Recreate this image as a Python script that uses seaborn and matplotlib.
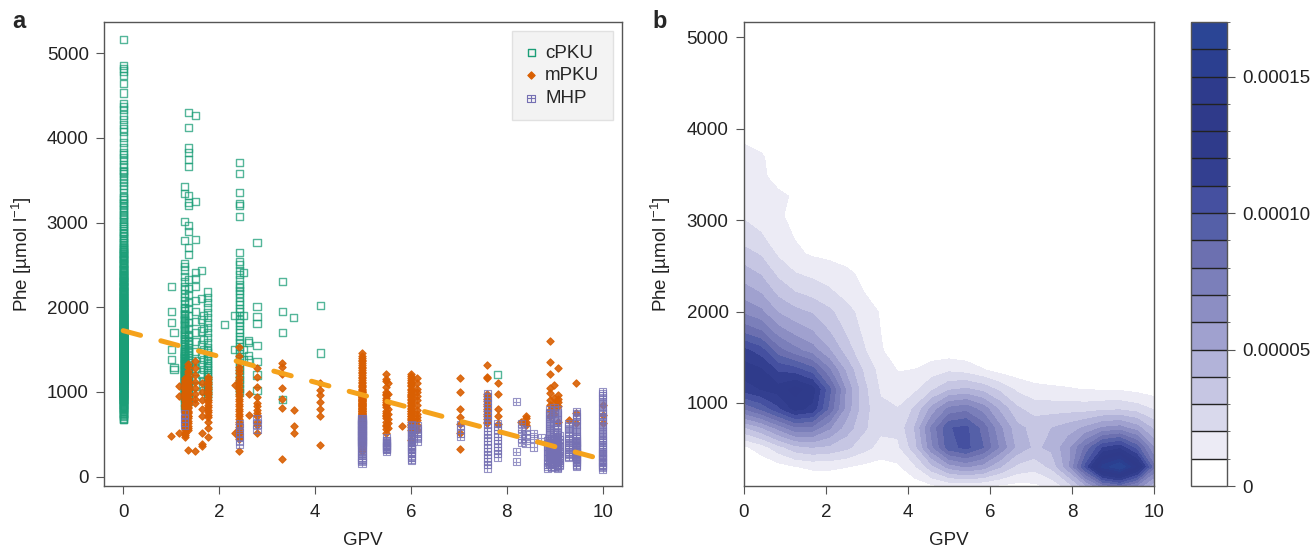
import numpy as np
import pandas as pd
import matplotlib
matplotlib.use("Agg")
import matplotlib.pyplot as plt
from matplotlib.path import Path
from matplotlib.colors import ListedColormap, BoundaryNorm
from matplotlib.cm import ScalarMappable
from matplotlib.ticker import FuncFormatter
import seaborn as sns

# ---- values: (GPV, [Phe values in umol/l]) per column ----
cpku_cols = [
    (0.00, [5165, 4850, 4820, 4790, 4740, 4640, 4530, 4410, 4370, 4340, 4270, 4220,
            4160, 4110, 4070, 4010, 3950, 3890, 3830, 3800, 3770, 3730, 3690, 3660,
            3620, 3600, 3580, 3540, 3510, 3470, 3440,
            3400, 3350, 3310, 3270, 3220, 3180, 3150, 3100, 3060, 3010, 2990, 2950,
            2900, 2870, 2830, 2790, 2760, 2720, 2690, 2660, 2620, 2590, 2560, 2530,
            2500, 2470, 2440, 2420, 2390, 2360, 2340, 2310, 2290, 2260, 2240, 2210,
            2190, 2170, 2150, 2120,
            3290, 3240, 3200, 3130, 3080, 3040, 2970, 2930, 2880, 2850, 2810, 2770,
            2740, 2700, 2675, 2645, 2610, 2580, 2550, 2520, 2490, 2460, 2450, 2430,
            2410, 2400, 2380, 2370, 2350, 2330, 2320, 2300, 2280, 2270, 2250, 2230,
            2220, 2200, 2185, 2180, 2160, 2140, 2130, 2110, 2105, 2470, 2520, 2560,
            2600, 2640, 2680, 2250, 2300, 2350, 2200, 2150,
            2100, 2095, 2088, 2080, 2074, 2066, 2060, 2051, 2045, 2039, 2031, 2025,
            2018, 2010, 2004,
            2000, 1994, 1989, 1981, 1975, 1968, 1961, 1955, 1950, 1944, 1938, 1931,
            1925, 1919, 1911, 1905, 1900,
            1895, 1890, 1884, 1879, 1875, 1868, 1861, 1855, 1850, 1845, 1839, 1834,
            1829, 1821, 1815, 1810, 1804, 1800,
            1795, 1790, 1786, 1780, 1775, 1770, 1764, 1760, 1755, 1750, 1744, 1740,
            1735, 1730, 1725, 1720, 1714, 1710, 1705, 1700,
            1698, 1694, 1690, 1685, 1680, 1676, 1672, 1668, 1664, 1660, 1655, 1650,
            1646, 1642, 1638, 1634, 1630, 1625, 1620, 1615, 1610, 1605, 1600,
            1597, 1593, 1590, 1586, 1582, 1578, 1574, 1570, 1566, 1562, 1558, 1554,
            1550, 1546, 1542, 1538, 1534, 1530, 1526, 1522, 1518, 1514, 1510, 1506, 1502,
            1498, 1494, 1490, 1486, 1482, 1478, 1474, 1470, 1466, 1462, 1458, 1454,
            1450, 1446, 1442, 1438, 1434, 1430, 1426, 1422, 1418, 1414, 1410, 1406, 1402,
            1399, 1395, 1391, 1387, 1383, 1379, 1375, 1371, 1367, 1363, 1359, 1355,
            1350, 1346, 1342, 1338, 1334, 1330, 1326, 1322, 1318, 1313, 1309, 1305, 1301,
            1298, 1294, 1290, 1286, 1282, 1278, 1273, 1269, 1265, 1261, 1257, 1253,
            1250, 1246, 1242, 1238, 1234, 1230, 1225, 1221, 1217, 1213, 1209, 1205, 1201,
            1197, 1193, 1189, 1185, 1181, 1177, 1173, 1169, 1165, 1160, 1156, 1152,
            1148, 1144, 1140, 1135, 1131, 1127, 1123, 1119, 1115, 1110, 1106, 1102, 1100,
            1480, 1455, 1430, 1405, 1380, 1355, 1330, 1305, 1280, 1255, 1230, 1205,
            1180, 1520, 1545, 1570, 1595, 1620, 1160, 1140,
            1095, 1090, 1086, 1081, 1076, 1071, 1066, 1061, 1056, 1051, 1046, 1041,
            1036, 1031, 1026, 1021, 1016, 1011, 1006, 1002, 998, 994,
            989, 983, 977, 971, 965, 959, 953, 947, 941, 935, 929, 923, 917, 911,
            905, 900, 906, 912,
            895, 885, 875, 866, 856, 845, 835, 825, 815, 806, 801, 811,
            795, 780, 765, 750, 740, 730, 720, 705, 690, 680, 670]),
    (1.00, [2250, 1945, 1815, 1500, 1380]),
    (1.06, [1700, 1290, 1260]),
    (1.28, [3430, 3340, 3010, 2790, 2520, 2480, 2440, 2360, 2300, 2250, 2210, 2160,
            2120, 2080, 2040, 2000, 1960, 1930, 1900, 1870, 1840, 1810, 1780, 1750,
            1720, 1690, 1660, 1630, 1600, 1570, 1540, 1510, 1480, 1450, 1420, 1390,
            1360, 1330, 1300, 1270, 1240, 1210, 1180, 1150, 1120, 1090, 1060, 1030,
            1000, 960, 920, 880, 840, 800, 1985, 1915, 1855, 1795, 1735, 1675, 1615,
            1555, 1495, 1435, 1375, 1315, 1255, 1195, 1135, 1075, 1015,
            1480, 1460, 1440, 1410, 1400, 1380, 1350, 1340, 1320, 1290, 1280, 1260,
            1230, 1220, 1200, 1170, 1160, 1140, 1110, 1100, 1080, 1050, 1040, 1020,
            990, 980, 970, 950, 940, 930]),
    (1.36, [4300, 4120, 3880, 3830, 3750, 3660, 3320, 3240, 3200, 2970, 2890, 2710,
            2620, 2330, 2220, 2150, 2060, 1990, 1900, 1820, 1750, 1680, 1610, 1560,
            1490, 1430, 1370, 1310, 1250, 1190, 1130, 1070, 1010, 950, 890,
            1650, 1590, 1530, 1470, 1410, 1350, 1290, 1230, 1170, 1110, 1050, 990, 930]),
    (1.50, [4260, 3250, 2800, 2410, 2340, 2240, 2080, 1950, 1830, 1700, 1600, 1480,
            1370, 1280, 1160, 1060]),
    (1.64, [2430, 2100, 1860, 1720, 1560, 1440, 1320, 1210]),
    (1.67, [1900, 1750, 1620, 1500, 1380, 1260, 1140, 1020]),
    (1.76, [2180, 2120, 2060, 2000, 1940, 1880, 1820, 1760, 1700, 1640, 1580, 1520,
            1460, 1400, 1340, 1290, 1230, 1180, 1120, 1060, 1000, 950,
            1490, 1430, 1370, 1310, 1260, 1210, 1150, 1090, 1030, 980]),
    (2.12, [1800]),
    (2.33, [1900, 1500]),
    (2.42, [3710, 3580, 3360, 3230, 3200, 3070, 2650, 2540, 2500, 2430, 2390, 2330,
            2270, 2230, 2200, 2160, 2110, 2070, 2030, 1990, 1950, 1900, 1860, 1820,
            1780, 1740, 1700, 1660, 1620, 1580, 1540, 1500, 1450, 1400, 1350, 1300,
            1250, 1200, 1150, 1100, 1040, 990]),
    (2.50, [2410, 1900, 1500, 1380]),
    (2.62, [1610, 1580, 1430, 1380]),
    (2.79, [2760, 2010, 1890, 1810, 1550, 1360, 1200, 1020]),
    (3.32, [2300, 1950, 1700, 910]),
    (3.56, [1875]),
    (4.12, [2025, 1460]),
    (7.81, [1210]),
]

mpku_cols = [
    (1.00, [480]),
    (1.17, [1070, 950, 510]),
    (1.28, [1160, 1120, 1080, 1040, 1000, 960, 920, 880, 850, 820, 790, 760, 730,
            700, 670, 640, 610, 580, 550, 520, 490, 470, 1140, 1060, 980, 900, 830,
            770, 710, 650, 590, 1130, 1100, 1050, 1020, 990, 940, 910, 860, 840, 810,
            780, 750, 720, 690]),
    (1.36, [1330, 1250, 1180, 1110, 1050, 990, 930, 870, 810, 750, 690, 630, 570,
            550, 320, 1080, 1020, 960, 900, 840, 780, 720, 660, 600, 1300, 1220, 1150,
            1130, 1070, 1030, 970, 910, 880, 820, 760, 710]),
    (1.50, [1370, 1280, 1200, 1120, 1050, 980, 920, 870, 300]),
    (1.64, [1100, 1000, 900, 800, 720, 510, 380, 360]),
    (1.76, [1180, 1120, 1060, 1000, 940, 880, 820, 760, 700, 640, 580, 470,
            1150, 1090, 1030, 970, 910, 850, 790, 730]),
    (2.33, [1080, 510]),
    (2.42, [1530, 1420, 1350, 1300, 1260, 1220, 1180, 1140, 1100, 1070, 1040, 1010,
            980, 950, 920, 890, 860, 830, 800, 770, 740, 710, 680, 650, 620, 590,
            560, 530, 500, 470, 440, 300]),
    (2.62, [980, 730]),
    (2.79, [1280, 1180, 1060, 940, 870, 830, 790, 750, 710, 650, 610, 510]),
    (3.32, [1340, 1300, 1210, 1050, 920, 810, 205]),
    (3.56, [790, 600, 520]),
    (4.10, [1110, 1020, 960, 880, 800, 710, 375]),
    (4.98, [1460, 1430, 1400, 1380, 1360, 1340, 1320, 1300, 1280, 1260, 1240, 1220,
            1200, 1180, 1160, 1140, 1120, 1100, 1085, 1070, 1055, 1040, 1025, 1010,
            995, 980, 965, 950, 940, 930, 920, 910, 900, 890, 880, 870, 860, 850,
            840, 830, 820, 810, 800, 790, 780, 770, 760, 750, 740, 730, 720, 710,
            700, 690, 680, 670, 660, 650, 640, 625, 610, 595, 580, 560, 540, 520,
            500, 470, 450, 410, 380, 340, 300,
            1000, 975, 955, 935, 915, 895, 875, 855, 835, 815, 795, 775, 755, 735,
            715, 695, 675, 655, 635, 615, 600, 585, 570, 550, 530, 510]),
    (5.49, [1210, 1130, 1000, 975, 925, 885, 845, 750, 710, 610, 510,
            1150, 1060, 960, 900, 860, 820, 780, 730, 690, 650, 600, 560]),
    (5.52, [1100, 980, 880, 800, 740, 680, 630, 580]),
    (5.81, [600]),
    (6.01, [1210, 1190, 1140, 1040, 1000, 960, 900, 830, 770, 710, 670, 550, 430,
            1100, 1070, 980, 940, 870, 800, 740, 690, 610,
            1170, 1120, 1080, 1020, 950, 920, 880, 850, 810, 780, 750, 720, 680,
            650, 620, 590]),
    (6.13, [1160, 1040, 900, 790, 670, 550, 1110, 1000, 950, 850, 740, 700, 610]),
    (7.03, [1170, 1000, 800, 700, 620, 520, 325]),
    (7.59, [1320, 1180, 1160, 980, 950, 920, 890, 860, 830, 800, 770, 740, 710,
            680, 650, 630]),
    (7.81, [1100, 970, 800, 710, 620]),
    (8.30, [640]),
    (8.40, [720, 690, 650, 610]),
    (8.89, [1600, 1350, 1210, 1050, 985, 905, 845, 785, 710]),
    (8.98, [1080, 930, 860, 800, 740]),
    (9.06, [1280, 960, 920, 880, 830, 650]),
    (9.29, [670]),
    (9.45, [1100, 750, 630]),
    (10.00, [845, 730, 630]),
]

mhp_cols = [
    (1.28, [740, 690, 640, 600]),
    (2.42, [630, 580, 520, 470, 420, 380]),
    (2.79, [680, 620, 560]),
    (4.98, [690, 670, 650, 630, 610, 590, 570, 550, 530, 510, 490, 470, 450, 430,
            410, 390, 370, 350, 330, 310, 290, 270, 250, 230, 210, 190, 175, 160,
            680, 660, 640, 620, 600, 580, 560, 540, 520, 500, 480, 460, 440, 420,
            400, 380]),
    (5.49, [430, 400, 370, 340, 320, 460, 430, 400, 370, 340, 320, 300,
            420, 390, 360, 330]),
    (6.01, [610, 580, 560, 540, 520, 500, 480, 460, 440, 420, 400, 380, 360, 340,
            320, 300, 280, 250, 230, 200, 190,
            600, 570, 530, 490, 450, 410, 370, 330, 290]),
    (6.13, [600, 570, 540, 510, 480, 450, 420]),
    (7.03, [610, 560, 510, 470]),
    (7.59, [980, 940, 900, 860, 820, 780, 740, 700, 660, 620, 580, 540, 500, 460,
            420, 380, 340, 300, 260, 220, 180, 140, 100]),
    (7.81, [630, 590, 550, 510, 470, 430, 390, 350, 310, 270, 230]),
    (8.20, [885, 295, 177]),
    (8.30, [630, 570, 510, 450, 400]),
    (8.40, [550, 500, 450, 390]),
    (8.56, [510, 450, 350]),
    (8.72, [460]),
    (8.85, [420, 390, 360, 330, 300, 270, 240, 210, 180, 150, 120, 100]),
    (8.89, [790, 760, 740, 715, 690, 665, 640, 615, 590, 565, 540, 515, 490, 465,
            440, 420, 400, 380, 360, 340, 320, 300, 280, 260, 240, 220, 200, 180,
            160, 140, 430, 410, 390, 370, 350, 330, 310, 290, 270, 250]),
    (8.93, [450, 420, 390, 360, 330, 300, 280, 260, 240, 220, 200, 180, 160, 140,
            120, 110]),
    (8.98, [820, 700, 600, 520, 470, 430, 400, 370, 345, 320, 300, 280, 260, 240,
            220, 200, 180, 160, 140, 120]),
    (9.06, [790, 760, 730, 700, 670, 640, 610, 580, 550, 520, 495, 470, 445, 420,
            400, 380, 360, 340, 320, 300, 285, 270, 255, 240, 225, 210, 195, 180,
            165, 150, 135, 120, 105, 95, 460, 430, 410, 390, 370, 350, 330, 310,
            290, 270, 250, 230, 210, 190]),
    (9.10, [480, 440, 400, 370, 340, 310, 290, 270, 250, 230, 210, 190, 170, 150, 130]),
    (9.29, [630, 600, 570, 540, 510, 480, 450, 420, 400, 380, 360, 340, 320, 300,
            280, 260, 240, 230]),
    (9.45, [770, 740, 710, 680, 650, 620, 590, 560, 530, 500, 470, 445, 420, 400,
            380, 360, 340, 320, 300, 280, 260, 240, 220, 200, 185, 170, 150, 135, 120,
            450, 410, 390, 350, 330, 290, 270, 230, 210]),
    (10.00, [1000, 975, 950, 920, 890, 860, 830, 800, 770, 740, 710, 680, 650, 620,
             590, 560, 535, 510, 485, 460, 440, 420, 400, 380, 360, 340, 320, 300,
             285, 270, 255, 240, 225, 210, 195, 180, 165, 150, 135, 120, 105, 92]),
]

colors = {"cPKU": "#1b9e77", "mPKU": "#d95f02", "MHP": "#7570b3"}
fit_color = "#f5a21b"

# 17 filled-contour colours, lowest level first
kde_colors = ["#ffffff", "#ecebf5", "#d9d9ec", "#c6c6e3", "#b2b3d9", "#a0a1cf",
              "#8c8ec3", "#7b7fba", "#6c70b0", "#5560a8", "#4550a0", "#333f90",
              "#2f3b8b", "#2f3a8a", "#2e3b8c", "#2b3f90", "#2b4595"]
kde_levels = np.linspace(0, 0.00017, 18)
bw_adjust = 0.74


def expand(cols, label):
    rows = [(g, p) for g, vals in cols for p in vals]
    return pd.DataFrame(rows, columns=["GPV", "Phe"]).assign(type=label)


df = pd.concat([expand(cpku_cols, "cPKU"), expand(mpku_cols, "mPKU"),
                expand(mhp_cols, "MHP")], ignore_index=True)

sns.set_style("ticks")
plt.rcParams.update({
    "font.family": ["Liberation Sans", "DejaVu Sans"],
    "mathtext.fontset": "custom",
    "mathtext.rm": "Liberation Sans",
    "mathtext.it": "Liberation Sans:italic",
    "mathtext.bf": "Liberation Sans:bold",
    "font.size": 13.5,
    "axes.edgecolor": "#555555",
    "axes.linewidth": 1.0,
    "axes.labelcolor": "#222222",
    "axes.labelsize": 13.5,
    "xtick.color": "#555555", "ytick.color": "#555555",
    "xtick.labelcolor": "#222222", "ytick.labelcolor": "#222222",
    "xtick.labelsize": 13.5, "ytick.labelsize": 13.5,
    "xtick.major.size": 6, "ytick.major.size": 6,
    "xtick.major.pad": 7, "ytick.major.pad": 5,
})

fig = plt.figure(figsize=(13.13, 5.48), dpi=100)
ax1 = fig.add_axes([0.0792, 0.1131, 0.3945, 0.8467])
ax2 = fig.add_axes([0.5666, 0.1131, 0.3123, 0.8467])
cax = fig.add_axes([0.9071, 0.1131, 0.0274, 0.8467])

# square with a cross inside (R pch 12)
boxplus = Path([(-1, -1), (1, -1), (1, 1), (-1, 1), (-1, -1),
                (0, -1), (0, 1), (-1, 0), (1, 0)],
               [Path.MOVETO, Path.LINETO, Path.LINETO, Path.LINETO, Path.CLOSEPOLY,
                Path.MOVETO, Path.LINETO, Path.MOVETO, Path.LINETO])

# ---- a: scatter + linear fit ----
sub = df[df.type == "cPKU"]
sns.scatterplot(x=sub.GPV, y=sub.Phe, ax=ax1, marker="s", s=26, facecolors="none",
                edgecolor=colors["cPKU"], linewidth=1.0, alpha=0.75, label="cPKU")
sub = df[df.type == "mPKU"]
sns.scatterplot(x=sub.GPV, y=sub.Phe, ax=ax1, marker="D", s=14, color=colors["mPKU"],
                edgecolor=colors["mPKU"], linewidth=0.8, alpha=0.9, label="mPKU")
sub = df[df.type == "MHP"]
sns.scatterplot(x=sub.GPV, y=sub.Phe, ax=ax1, marker=boxplus, s=28, facecolors="none",
                edgecolor=colors["MHP"], linewidth=0.8, alpha=0.75, label="MHP")

sns.regplot(data=df, x="GPV", y="Phe", ax=ax1, scatter=False, ci=None, truncate=True,
            line_kws=dict(color=fit_color, lw=3.6, ls=(0, (3.6, 4.2)),
                          dash_capstyle="round"))

ax1.margins(0.04)
ax1.set_xticks([0, 2, 4, 6, 8, 10])
ax1.set_yticks([0, 1000, 2000, 3000, 4000, 5000])
ax1.set_xlabel("GPV", labelpad=8)
ax1.set_ylabel("Phe [µmol l$^{-1}$]", labelpad=9)
for s in ax1.spines.values():
    s.set_visible(True)
leg = ax1.legend(loc="upper right", frameon=True, fancybox=False, facecolor="#f0f0f0",
                 edgecolor="#dcdcdc", fontsize=13.5, handletextpad=0.45, labelspacing=0.3,
                 borderpad=0.7, handlelength=0.6, borderaxespad=0.5)
leg.get_frame().set_linewidth(1.0)
for h in leg.legend_handles:
    h.set_alpha(1)

# ---- b: 2-d kernel density (25 x 25 grid over the data range) ----
def bw_nrd(v):
    q25, q75 = np.percentile(v, [25, 75])
    return 4 * 1.06 * min(np.std(v, ddof=1), (q75 - q25) / 1.34) * len(v) ** -0.2


x = df.GPV.to_numpy(float)
y = df.Phe.to_numpy(float)
hx, hy = bw_adjust * bw_nrd(x) / 4, bw_adjust * bw_nrd(y) / 4
gx = np.linspace(x.min(), x.max(), 25)
gy = np.linspace(y.min(), y.max(), 25)
kx = np.exp(-0.5 * ((gx[:, None] - x[None, :]) / hx) ** 2) / np.sqrt(2 * np.pi)
ky = np.exp(-0.5 * ((gy[:, None] - y[None, :]) / hy) ** 2) / np.sqrt(2 * np.pi)
z = kx @ ky.T / (len(x) * hx * hy)

cmap = ListedColormap(kde_colors)
cmap.set_over(kde_colors[-1])
norm = BoundaryNorm(kde_levels, cmap.N)
ax2.contourf(gx, gy, z.T, levels=kde_levels, cmap=cmap, norm=norm, extend="max")
ax2.set_xlim(gx[0], gx[-1])
ax2.set_ylim(gy[0], gy[-1])
ax2.set_xticks([0, 2, 4, 6, 8, 10])
ax2.set_yticks([1000, 2000, 3000, 4000, 5000])
ax2.set_xlabel("GPV", labelpad=8)
ax2.set_ylabel("Phe [µmol l$^{-1}$]", labelpad=10)
for s in ax2.spines.values():
    s.set_visible(True)

cb = fig.colorbar(ScalarMappable(norm=norm, cmap=cmap), cax=cax,
                  ticks=[0, 0.00005, 0.0001, 0.00015], drawedges=True)
cb.ax.yaxis.set_major_formatter(FuncFormatter(lambda v, p: "0" if v == 0 else f"{v:.5f}"))
cb.outline.set_edgecolor("#555555")
cb.dividers.set_color("#222222")
cb.dividers.set_linewidth(1.0)
cb.ax.tick_params(length=6, color="#555555", labelsize=13.5)

fig.text(0.009, 0.948, "a", fontsize=17, fontweight="bold")
fig.text(0.497, 0.948, "b", fontsize=17, fontweight="bold")

fig.savefig("out.png", dpi=100)
